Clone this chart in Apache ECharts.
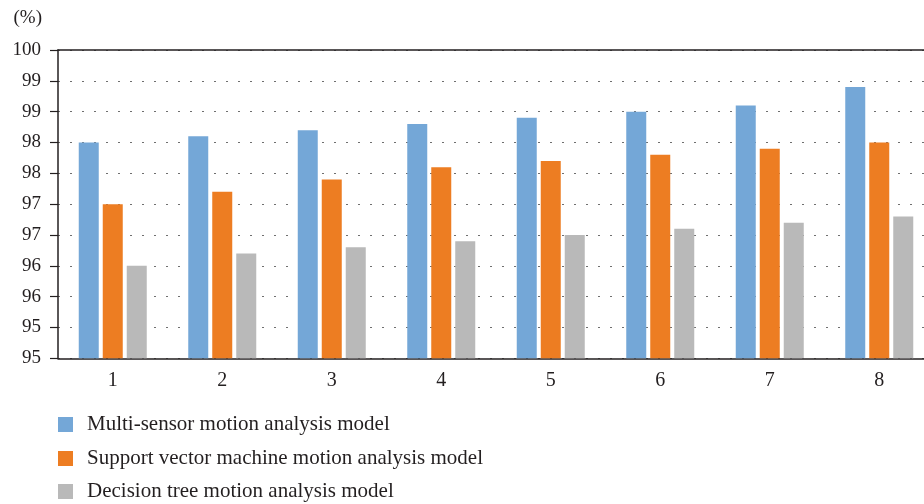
<!DOCTYPE html>
<html>
<head>
<meta charset="utf-8">
<script src="https://cdn.jsdelivr.net/npm/echarts@6/dist/echarts.min.js"></script>
<style>
  html, body { margin: 0; padding: 0; background: #fff; }
  #chart { width: 924px; height: 504px; }
</style>
</head>
<body>
<div id="chart"></div>
<script>
// Accuracy (%) of three motion analysis models over eight trials
const categories = ['1', '2', '3', '4', '5', '6', '7', '8'];
const seriesNames = [
  'Multi-sensor motion analysis model',
  'Support vector machine motion analysis model',
  'Decision tree motion analysis model'
];
const multiSensor = [98.5, 98.6, 98.7, 98.8, 98.9, 99.0, 99.1, 99.4];
const svm = [97.5, 97.7, 97.9, 98.1, 98.2, 98.3, 98.4, 98.5];
const decisionTree = [96.5, 96.7, 96.8, 96.9, 97.0, 97.1, 97.2, 97.3];
const colors = ['#74A7D7', '#ED7D22', '#B9B9B9'];

const FONT = '"Liberation Serif", "DejaVu Serif", serif';
const TEXT = '#231F20';

const chart = echarts.init(document.getElementById('chart'), null, { renderer: 'canvas' });

function barSeries(name, data, color) {
  return {
    name: name,
    type: 'bar',
    data: data,
    barWidth: 20,
    barGap: '20%',
    itemStyle: { color: color },
    emphasis: { disabled: true }
  };
}

// one legend row per series, stacked under the plot
const legendTops = [414, 448, 481];
function legendRow(name, top) {
  return {
    orient: 'horizontal',
    left: 58,
    top: top,
    padding: 0,
    itemWidth: 15,
    itemHeight: 15,
    icon: 'rect',
    data: [name],
    textStyle: { fontFamily: FONT, fontSize: 21, color: TEXT, padding: [0, 0, 0, 9] }
  };
}

chart.setOption({
  animation: false,
  backgroundColor: '#fff',
  color: colors,
  // the plot runs slightly past the right edge of the canvas
  grid: {
    left: 58, top: 50, width: 876, height: 308.3,
    containLabel: false,
    outerBoundsMode: 'none'
  },
  legend: seriesNames.map(function (n, i) { return legendRow(n, legendTops[i]); }),
  xAxis: [
    {
      type: 'category',
      data: categories,
      axisLine: { show: true, lineStyle: { color: '#231F20', width: 1.5 } },
      axisTick: { show: false },
      axisLabel: { fontFamily: FONT, fontSize: 20, color: TEXT, margin: 12 },
      splitLine: { show: false }
    },
    {
      // solid rule along the top edge of the plot (100 %)
      type: 'category',
      position: 'top',
      data: categories,
      axisLine: { show: true, lineStyle: { color: '#231F20', width: 1.5 } },
      axisTick: { show: false },
      axisLabel: { show: false },
      splitLine: { show: false }
    }
  ],
  yAxis: {
    type: 'value',
    min: 95,
    max: 100,
    interval: 0.5,
    name: '(%)',
    nameLocation: 'end',
    nameGap: 32,
    nameTextStyle: {
      fontFamily: FONT, fontSize: 19, color: TEXT,
      align: 'right', verticalAlign: 'middle', padding: [0, 16, 0, 0]
    },
    axisLine: { show: true, lineStyle: { color: '#231F20', width: 1.5 } },
    axisTick: { show: true, inside: false, length: 8, lineStyle: { color: '#231F20', width: 1.2 } },
    axisLabel: {
      fontFamily: FONT, fontSize: 19, color: TEXT, margin: 17,
      formatter: function (v) { return String(Math.floor(v)); }
    },
    splitLine: {
      show: true,
      lineStyle: { color: '#6f6f6f', width: 1, type: [2, 10], dashOffset: 0 }
    }
  },
  series: [
    barSeries(seriesNames[0], multiSensor, colors[0]),
    barSeries(seriesNames[1], svm, colors[1]),
    barSeries(seriesNames[2], decisionTree, colors[2])
  ]
});
</script>
</body>
</html>
